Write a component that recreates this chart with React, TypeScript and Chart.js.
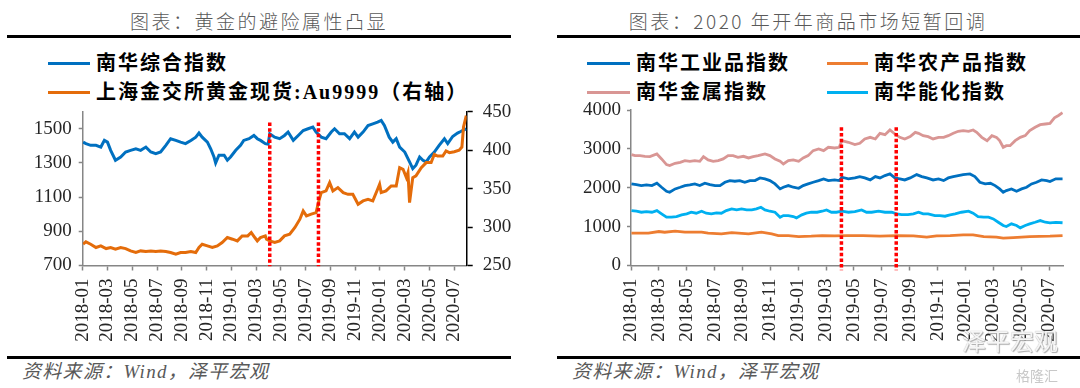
import React, { useEffect, useRef } from "react";
import { Chart, registerables } from "chart.js";

Chart.register(...registerables);

type Pt = [string, number];

// ---------- data ----------
const tickLabels = [
  "2018-01", "2018-03", "2018-05", "2018-07", "2018-09", "2018-11",
  "2019-01", "2019-03", "2019-05", "2019-07", "2019-09", "2019-11",
  "2020-01", "2020-03", "2020-05", "2020-07",
];
const axisStart = "2018-01-01";
const axisEnd = "2020-08-01";
const markerDates = ["2019-04-04", "2019-08-02"];

const compositeTicks = [700, 900, 1100, 1300, 1500];
const goldTicks = [250, 300, 350, 400, 450];
const commodityTicks = [0, 1000, 2000, 3000, 4000];

// 南华综合指数 (left axis)
const composite: Pt[] = [
  ["2018-01-02", 1422], ["2018-01-09", 1413], ["2018-01-21", 1403], ["2018-02-03", 1403],
  ["2018-02-14", 1393], ["2018-02-22", 1432], ["2018-03-01", 1422], ["2018-03-09", 1374],
  ["2018-03-21", 1316], ["2018-04-03", 1335], ["2018-04-15", 1364], ["2018-04-27", 1374],
  ["2018-05-10", 1383], ["2018-05-22", 1374], ["2018-06-04", 1393], ["2018-06-16", 1364],
  ["2018-06-28", 1354], ["2018-07-10", 1364], ["2018-07-23", 1403], ["2018-08-04", 1442],
  ["2018-08-17", 1432], ["2018-08-29", 1422], ["2018-09-10", 1413], ["2018-09-23", 1432],
  ["2018-10-05", 1451], ["2018-10-13", 1475], ["2018-10-21", 1451], ["2018-11-03", 1422],
  ["2018-11-11", 1383], ["2018-11-19", 1335], ["2018-11-23", 1300], ["2018-12-01", 1345],
  ["2018-12-14", 1345], ["2018-12-22", 1316], ["2018-12-30", 1335], ["2019-01-12", 1374],
  ["2019-01-24", 1403], ["2019-02-01", 1432], ["2019-02-13", 1442], ["2019-02-24", 1461],
  ["2019-03-04", 1442], ["2019-03-12", 1432], ["2019-03-24", 1413], ["2019-03-31", 1410],
  ["2019-04-04", 1471], ["2019-04-16", 1451], ["2019-04-28", 1442], ["2019-05-10", 1461],
  ["2019-05-19", 1481], ["2019-06-01", 1432], ["2019-06-13", 1461], ["2019-06-25", 1490],
  ["2019-07-07", 1500], ["2019-07-19", 1510], ["2019-07-27", 1481], ["2019-08-09", 1451],
  ["2019-08-21", 1442], ["2019-09-03", 1481], ["2019-09-11", 1500], ["2019-09-23", 1471],
  ["2019-10-05", 1471], ["2019-10-18", 1442], ["2019-10-30", 1481], ["2019-11-08", 1451],
  ["2019-11-20", 1481], ["2019-12-02", 1519], ["2019-12-14", 1529], ["2019-12-26", 1539],
  ["2020-01-04", 1549], ["2020-01-12", 1519], ["2020-01-24", 1451], ["2020-02-02", 1422],
  ["2020-02-10", 1442], ["2020-02-18", 1393], ["2020-03-01", 1364], ["2020-03-13", 1306],
  ["2020-03-21", 1267], ["2020-03-29", 1287], ["2020-04-07", 1335], ["2020-04-15", 1316],
  ["2020-04-23", 1306], ["2020-05-01", 1335], ["2020-05-13", 1364], ["2020-05-25", 1403],
  ["2020-06-07", 1442], ["2020-06-15", 1413], ["2020-06-27", 1455], ["2020-07-09", 1475],
  ["2020-07-17", 1484], ["2020-07-25", 1494], ["2020-07-31", 1500],
];

// 上海金交所黄金现货:Au9999 (right axis)
const gold: Pt[] = [
  ["2018-01-02", 277.7], ["2018-01-09", 280.7], ["2018-01-21", 277.7], ["2018-02-03", 273.4],
  ["2018-02-14", 275.5], ["2018-02-26", 272], ["2018-03-09", 273.4], ["2018-03-21", 271.2],
  ["2018-04-03", 273.4], ["2018-04-15", 272], ["2018-04-27", 269], ["2018-05-10", 266.9],
  ["2018-05-22", 269], ["2018-06-04", 268.2], ["2018-06-16", 269], ["2018-06-28", 268.2],
  ["2018-07-10", 269], ["2018-07-23", 268.2], ["2018-08-04", 266.9], ["2018-08-17", 264.7],
  ["2018-08-29", 266.9], ["2018-09-10", 266.9], ["2018-09-23", 268.2], ["2018-10-05", 266.9],
  ["2018-10-13", 273.4], ["2018-10-21", 277.7], ["2018-11-03", 275.5], ["2018-11-15", 273.4],
  ["2018-11-27", 275.5], ["2018-12-09", 279.9], ["2018-12-22", 286.4], ["2019-01-04", 284.2],
  ["2019-01-16", 282], ["2019-01-28", 288.5], ["2019-02-10", 288.5], ["2019-02-18", 292.9],
  ["2019-02-26", 286.4], ["2019-03-04", 282], ["2019-03-12", 286.4], ["2019-03-24", 288.5],
  ["2019-03-27", 284.2], ["2019-04-04", 282], ["2019-04-16", 279.9], ["2019-04-28", 282],
  ["2019-05-10", 288.5], ["2019-05-23", 290.7], ["2019-06-05", 299.4], ["2019-06-17", 310.2],
  ["2019-06-25", 321], ["2019-07-03", 314.5], ["2019-07-15", 316.7], ["2019-07-27", 318.8],
  ["2019-08-03", 334], ["2019-08-09", 344.8], ["2019-08-21", 347], ["2019-08-30", 357.8],
  ["2019-09-07", 347], ["2019-09-19", 351.3], ["2019-10-02", 344.8], ["2019-10-14", 342.6],
  ["2019-10-26", 342.6], ["2019-11-08", 329.7], ["2019-11-20", 334], ["2019-12-02", 336.1],
  ["2019-12-14", 334], ["2019-12-26", 349.1], ["2019-12-31", 355.6], ["2020-01-04", 344.8],
  ["2020-01-16", 347], ["2020-01-29", 353.5], ["2020-02-10", 353.5], ["2020-02-18", 377.3],
  ["2020-02-26", 375.1], ["2020-03-05", 364.3], ["2020-03-09", 370.8], ["2020-03-13", 331.8],
  ["2020-03-21", 364.3], ["2020-03-29", 366.5], ["2020-04-11", 377.3], ["2020-04-23", 383.8],
  ["2020-05-05", 383.8], ["2020-05-13", 394.6], ["2020-05-21", 392.4], ["2020-06-03", 392.4],
  ["2020-06-11", 398.9], ["2020-06-19", 396.8], ["2020-07-01", 398], ["2020-07-13", 400],
  ["2020-07-20", 404], ["2020-07-24", 430], ["2020-07-31", 445],
];

// 南华工业品指数
const industrial: Pt[] = [
  ["2018-01-02", 2098], ["2018-01-13", 2081], ["2018-01-24", 2056], ["2018-02-04", 2073],
  ["2018-02-15", 2056], ["2018-02-25", 2116], ["2018-03-07", 2013], ["2018-03-18", 1910],
  ["2018-03-25", 1884], ["2018-04-06", 1970], ["2018-04-17", 2013], ["2018-04-27", 2056],
  ["2018-05-08", 2073], ["2018-05-19", 2098], ["2018-05-30", 2056], ["2018-06-10", 2116],
  ["2018-06-21", 2081], ["2018-07-02", 2056], ["2018-07-13", 2056], ["2018-07-24", 2141],
  ["2018-08-04", 2184], ["2018-08-15", 2167], ["2018-08-26", 2184], ["2018-09-06", 2141],
  ["2018-09-17", 2184], ["2018-09-28", 2184], ["2018-10-09", 2253], ["2018-10-20", 2227],
  ["2018-10-31", 2184], ["2018-11-11", 2098], ["2018-11-22", 1970], ["2018-11-29", 2013],
  ["2018-12-10", 2056], ["2018-12-21", 2013], ["2019-01-02", 1987], ["2019-01-12", 2056],
  ["2019-01-23", 2098], ["2019-02-03", 2141], ["2019-02-14", 2184], ["2019-02-24", 2227],
  ["2019-03-06", 2184], ["2019-03-20", 2201], ["2019-03-30", 2184], ["2019-04-05", 2270],
  ["2019-04-19", 2227], ["2019-05-03", 2253], ["2019-05-14", 2287], ["2019-05-25", 2253],
  ["2019-06-06", 2201], ["2019-06-17", 2287], ["2019-06-27", 2253], ["2019-07-08", 2313],
  ["2019-07-19", 2356], ["2019-07-30", 2253], ["2019-08-10", 2227], ["2019-08-21", 2201],
  ["2019-09-02", 2253], ["2019-09-16", 2338], ["2019-09-27", 2287], ["2019-10-08", 2253],
  ["2019-10-22", 2201], ["2019-11-03", 2227], ["2019-11-14", 2184], ["2019-11-24", 2253],
  ["2019-12-05", 2287], ["2019-12-16", 2313], ["2019-12-27", 2338], ["2020-01-11", 2356],
  ["2020-01-22", 2287], ["2020-02-02", 2141], ["2020-02-13", 2098], ["2020-02-24", 2116],
  ["2020-03-05", 2056], ["2020-03-15", 1970], ["2020-03-23", 1884], ["2020-03-30", 1927],
  ["2020-04-10", 1970], ["2020-04-21", 1910], ["2020-05-02", 1970], ["2020-05-13", 2013],
  ["2020-05-24", 2098], ["2020-06-04", 2141], ["2020-06-15", 2201], ["2020-06-26", 2184],
  ["2020-07-03", 2158], ["2020-07-16", 2230], ["2020-07-31", 2230],
];

// 南华农产品指数
const agriculture: Pt[] = [
  ["2018-01-02", 831], ["2018-02-08", 831], ["2018-03-01", 874], ["2018-03-14", 856],
  ["2018-04-06", 882], ["2018-04-27", 856], ["2018-06-03", 856], ["2018-06-17", 831],
  ["2018-07-16", 814], ["2018-08-08", 848], ["2018-09-14", 814], ["2018-10-12", 856],
  ["2018-11-04", 814], ["2018-11-18", 771], ["2018-12-10", 771], ["2019-01-02", 745],
  ["2019-01-30", 754], ["2019-02-21", 771], ["2019-03-20", 762], ["2019-04-16", 771],
  ["2019-05-21", 771], ["2019-06-27", 754], ["2019-08-03", 771], ["2019-09-09", 762],
  ["2019-10-08", 728], ["2019-10-30", 762], ["2019-11-28", 771], ["2019-12-27", 788],
  ["2020-01-18", 788], ["2020-02-10", 745], ["2020-03-08", 728], ["2020-03-23", 702],
  ["2020-04-14", 719], ["2020-05-20", 745], ["2020-07-03", 754], ["2020-07-31", 770],
];

// 南华金属指数
const metals: Pt[] = [
  ["2018-01-02", 2852], ["2018-01-10", 2826], ["2018-01-21", 2826], ["2018-02-01", 2809],
  ["2018-02-11", 2800], ["2018-02-25", 2869], ["2018-03-07", 2741], ["2018-03-18", 2595],
  ["2018-03-25", 2570], ["2018-04-06", 2629], ["2018-04-17", 2655], ["2018-04-27", 2698],
  ["2018-05-08", 2681], ["2018-05-19", 2698], ["2018-05-30", 2681], ["2018-06-07", 2800],
  ["2018-06-17", 2715], ["2018-06-28", 2681], ["2018-07-09", 2698], ["2018-07-20", 2741],
  ["2018-07-31", 2826], ["2018-08-11", 2826], ["2018-08-22", 2784], ["2018-09-03", 2809],
  ["2018-09-14", 2767], ["2018-09-24", 2800], ["2018-10-05", 2826], ["2018-10-20", 2869],
  ["2018-10-31", 2826], ["2018-11-11", 2741], ["2018-11-22", 2681], ["2018-11-29", 2612],
  ["2018-12-10", 2698], ["2018-12-21", 2715], ["2019-01-02", 2681], ["2019-01-12", 2767],
  ["2019-01-23", 2826], ["2019-02-03", 2955], ["2019-02-14", 2998], ["2019-02-24", 2955],
  ["2019-03-06", 3041], ["2019-03-20", 3023], ["2019-03-30", 3041], ["2019-04-05", 3212],
  ["2019-04-19", 3169], ["2019-05-03", 3109], ["2019-05-14", 3143], ["2019-05-25", 3255],
  ["2019-06-06", 3297], ["2019-06-17", 3255], ["2019-06-27", 3400], ["2019-07-08", 3366],
  ["2019-07-19", 3486], ["2019-07-30", 3383], ["2019-08-10", 3297], ["2019-08-21", 3255],
  ["2019-09-02", 3315], ["2019-09-13", 3426], ["2019-09-20", 3400], ["2019-09-30", 3340],
  ["2019-10-11", 3315], ["2019-10-22", 3255], ["2019-11-03", 3297], ["2019-11-14", 3297],
  ["2019-11-24", 3340], ["2019-12-05", 3400], ["2019-12-16", 3452], ["2019-12-27", 3469],
  ["2020-01-08", 3452], ["2020-01-18", 3486], ["2020-01-26", 3426], ["2020-02-06", 3297],
  ["2020-02-17", 3212], ["2020-02-27", 3340], ["2020-03-08", 3297], ["2020-03-15", 3212],
  ["2020-03-23", 3041], ["2020-03-30", 3083], ["2020-04-07", 3083], ["2020-04-18", 3212],
  ["2020-04-29", 3297], ["2020-05-10", 3340], ["2020-05-20", 3469], ["2020-06-01", 3554],
  ["2020-06-12", 3623], ["2020-06-23", 3640], ["2020-07-03", 3657], ["2020-07-13", 3800],
  ["2020-07-22", 3860], ["2020-07-31", 3930],
];

// 南华能化指数
const energyChem: Pt[] = [
  ["2018-01-02", 1413], ["2018-01-13", 1396], ["2018-01-24", 1370], ["2018-02-04", 1387],
  ["2018-02-15", 1370], ["2018-02-25", 1413], ["2018-03-07", 1328], ["2018-03-18", 1242],
  ["2018-03-29", 1242], ["2018-04-09", 1259], ["2018-04-20", 1302], ["2018-05-01", 1328],
  ["2018-05-11", 1370], ["2018-05-22", 1345], ["2018-06-03", 1396], ["2018-06-13", 1345],
  ["2018-06-24", 1328], ["2018-07-05", 1353], ["2018-07-16", 1345], ["2018-07-27", 1413],
  ["2018-08-08", 1456], ["2018-08-19", 1430], ["2018-08-30", 1456], ["2018-09-10", 1430],
  ["2018-09-21", 1430], ["2018-10-01", 1456], ["2018-10-11", 1499], ["2018-10-20", 1430],
  ["2018-10-31", 1396], ["2018-11-11", 1370], ["2018-11-22", 1242], ["2018-11-29", 1285],
  ["2018-12-10", 1285], ["2018-12-21", 1259], ["2018-12-28", 1225], ["2019-01-09", 1302],
  ["2019-01-19", 1345], ["2019-01-30", 1370], ["2019-02-11", 1370], ["2019-02-21", 1396],
  ["2019-03-02", 1430], ["2019-03-13", 1370], ["2019-03-24", 1370], ["2019-04-05", 1396],
  ["2019-04-19", 1370], ["2019-05-03", 1387], ["2019-05-18", 1430], ["2019-05-29", 1370],
  ["2019-06-09", 1370], ["2019-06-24", 1396], ["2019-07-08", 1370], ["2019-07-23", 1370],
  ["2019-08-03", 1328], ["2019-08-14", 1310], ["2019-08-28", 1310], ["2019-09-09", 1328],
  ["2019-09-20", 1370], ["2019-09-30", 1328], ["2019-10-11", 1328], ["2019-10-26", 1285],
  ["2019-11-06", 1285], ["2019-11-17", 1268], ["2019-11-28", 1302], ["2019-12-09", 1328],
  ["2019-12-23", 1370], ["2020-01-08", 1396], ["2020-01-18", 1345], ["2020-01-29", 1259],
  ["2020-02-10", 1242], ["2020-02-20", 1242], ["2020-03-01", 1199], ["2020-03-12", 1113],
  ["2020-03-23", 1028], ["2020-03-30", 1002], ["2020-04-10", 1071], ["2020-04-21", 1028],
  ["2020-04-29", 968], ["2020-05-10", 1028], ["2020-05-20", 1071], ["2020-06-01", 1113],
  ["2020-06-12", 1156], ["2020-06-23", 1113], ["2020-07-03", 1096], ["2020-07-16", 1110],
  ["2020-07-31", 1100],
];

// vertical marker extents (value units of each chart's left axis)
const leftMarkerRange = [695, 1537];
const rightMarkerRange = [-120, 3555];

// ---------- helpers ----------
function monthOf(date: string): number {
  const [y, m, d] = date.split("-").map(Number);
  const dim = new Date(y, m, 0).getDate();
  return (y - 2018) * 12 + (m - 1) + (d - 1) / dim;
}
const toXY = (pts: Pt[]) => pts.map(([d, v]) => ({ x: monthOf(d), y: v }));

const serif = '"Liberation Serif", "Times New Roman", serif';
const cjk = '"Noto Sans CJK SC", "Noto Sans", sans-serif';
const mixed = `"Liberation Serif", ${cjk}`;
const tickFont = { family: serif, size: 19 };
const tickColor = "#262626";
const axisGray = "#868686";

function xScale() {
  return {
    type: "linear" as const,
    min: monthOf(axisStart),
    max: monthOf(axisEnd),
    afterBuildTicks: (s: any) => {
      s.ticks = tickLabels.map((t) => ({ value: monthOf(t + "-01") }));
    },
    afterFit: (s: any) => {
      s.height = 84.5;
      s.paddingLeft = 0;
      s.paddingRight = 0;
    },
    ticks: {
      autoSkip: false,
      minRotation: 90,
      maxRotation: 90,
      padding: 8,
      color: tickColor,
      font: tickFont,
      callback: (_v: any, i: number) => tickLabels[i],
    },
    grid: {
      display: true,
      drawOnChartArea: false,
      drawTicks: true,
      tickLength: 5,
      tickColor: axisGray,
      tickWidth: 1.5,
    },
    border: { display: true, color: axisGray, width: 1.5 },
  };
}

function yScale(
  position: "left" | "right",
  min: number,
  max: number,
  ticks: number[],
  width: number,
  color: string,
  tickLength: number,
  padding: number
) {
  return {
    type: "linear" as const,
    position,
    min,
    max,
    afterBuildTicks: (s: any) => {
      s.ticks = ticks.map((v) => ({ value: v }));
    },
    afterFit: (s: any) => {
      s.width = width;
      s.paddingTop = 0;
      s.paddingBottom = 0;
    },
    ticks: {
      padding,
      color: tickColor,
      font: tickFont,
      callback: (v: any) => String(v),
    },
    grid: {
      display: true,
      drawOnChartArea: false,
      drawTicks: true,
      tickLength,
      tickColor: color,
      tickWidth: 1.5,
    },
    border: { display: true, color, width: 1.5 },
  };
}

function markerDataset(date: string, range: number[]) {
  return {
    data: [
      { x: monthOf(date), y: range[1] },
      { x: monthOf(date), y: range[0] },
    ],
    borderColor: "#FF0000",
    borderWidth: 3.5,
    borderDash: [3.5, 2.2],
    borderCapStyle: "butt",
    pointRadius: 0,
    clip: false as any,
    yAxisID: "y",
  };
}

function lineDataset(pts: Pt[], color: string, yAxisID = "y", width = 3) {
  return {
    data: toXY(pts),
    borderColor: color,
    backgroundColor: color,
    borderWidth: width,
    pointRadius: 0,
    tension: 0,
    yAxisID,
  };
}

const baseOptions = {
  responsive: false,
  animation: false as const,
  devicePixelRatio: 1,
  plugins: { legend: { display: false }, tooltip: { enabled: false } },
  events: [] as any[],
};

function LeftChart() {
  const ref = useRef<HTMLCanvasElement>(null);
  useEffect(() => {
    if (!ref.current) return;
    const chart = new Chart(ref.current, {
      type: "line",
      data: {
        datasets: [
          ...markerDates.map((d) => markerDataset(d, leftMarkerRange)),
          lineDataset(gold, "#E46C0A", "y1"),
          lineDataset(composite, "#0070C0", "y"),
        ] as any,
      },
      options: {
        ...baseOptions,
        layout: { padding: { top: 11.7, left: 0, right: 0, bottom: 0 } },
        scales: {
          x: xScale(),
          y: yScale("left", 700, 1600, compositeTicks, 82.7, axisGray, 4, 7),
          y1: yScale("right", 250, 450, goldTicks, 73.3, "#000000", 6, 10),
        } as any,
      } as any,
    });
    return () => chart.destroy();
  }, []);
  return (
    <canvas
      ref={ref}
      width={540}
      height={250}
      style={{ position: "absolute", left: 0, top: 100, width: 540, height: 250 }}
    />
  );
}

function RightChart() {
  const ref = useRef<HTMLCanvasElement>(null);
  useEffect(() => {
    if (!ref.current) return;
    const chart = new Chart(ref.current, {
      type: "line",
      data: {
        datasets: [
          ...markerDates.map((d) => markerDataset(d, rightMarkerRange)),
          lineDataset(agriculture, "#ED7D31", "y", 2.8),
          lineDataset(energyChem, "#00B0F0", "y", 2.8),
          lineDataset(industrial, "#0070C0", "y", 2.8),
          lineDataset(metals, "#D99694", "y", 2.8),
        ] as any,
      },
      options: {
        ...baseOptions,
        layout: { padding: { top: 10, left: 0, right: 17, bottom: 0 } },
        scales: {
          x: xScale(),
          y: yScale("left", 0, 4000, commodityTicks, 91, axisGray, 4, 6),
        } as any,
      } as any,
    });
    return () => chart.destroy();
  }, []);
  return (
    <canvas
      ref={ref}
      width={540}
      height={250}
      style={{ position: "absolute", left: 540, top: 100, width: 540, height: 250 }}
    />
  );
}

const abs = (s: React.CSSProperties): React.CSSProperties => ({ position: "absolute", ...s });

function Title({ text, left, width }: { text: string; left: number; width: number }) {
  return (
    <div
      style={abs({
        left,
        top: 10,
        width,
        textAlign: "center",
        fontFamily: cjk,
        fontWeight: 300,
        fontSize: 19,
        lineHeight: "22px",
        letterSpacing: 2.5,
        color: "#595959",
        whiteSpace: "nowrap",
      })}
    >
      {text}
    </div>
  );
}

function Rule({ left, width, top }: { left: number; width: number; top: number }) {
  return <div style={abs({ left, width, top, height: 3, background: "#000" })} />;
}

function LegendItem({
  x,
  y,
  color,
  label,
  lineLen = 42,
}: {
  x: number;
  y: number;
  color: string;
  label: string;
  lineLen?: number;
}) {
  return (
    <>
      <div style={abs({ left: x, top: y - 1.5, width: lineLen, height: 3, background: color })} />
      <div
        style={abs({
          left: x + lineLen + 6,
          top: y - 12,
          fontFamily: mixed,
          fontWeight: 700,
          fontSize: 20,
          lineHeight: "24px",
          letterSpacing: 2,
          color: "#000",
          whiteSpace: "nowrap",
        })}
      >
        {label}
      </div>
    </>
  );
}

function Footer({ left }: { left: number }) {
  return (
    <div
      style={abs({
        left,
        top: 361,
        fontFamily: mixed,
        fontStyle: "italic",
        fontSize: 19,
        lineHeight: "22px",
        letterSpacing: 1.3,
        color: "#595959",
        whiteSpace: "nowrap",
      })}
    >
      资料来源：Wind，泽平宏观
    </div>
  );
}

export default function App() {
  return (
    <div
      style={{
        position: "fixed",
        left: 0,
        top: 0,
        width: 1080,
        height: 388,
        background: "#ffffff",
        overflow: "hidden",
      }}
    >
      {/* left panel */}
      <Title text="图表：黄金的避险属性凸显" left={0} width={518} />
      <Rule left={7} width={504} top={35} />
      <LegendItem x={48} y={63} color="#0070C0" label="南华综合指数" />
      <LegendItem x={48} y={92} color="#E46C0A" label="上海金交所黄金现货:Au9999（右轴）" />
      <LeftChart />
      <Rule left={7} width={504} top={356} />
      <Footer left={22} />

      {/* right panel */}
      <Title text="图表：2020 年开年商品市场短暂回调" left={556} width={504} />
      <Rule left={557} width={523} top={35} />
      <LegendItem x={587} y={63} color="#0070C0" label="南华工业品指数" lineLen={43} />
      <LegendItem x={827} y={63} color="#ED7D31" label="南华农产品指数" lineLen={41} />
      <LegendItem x={587} y={92} color="#D99694" label="南华金属指数" lineLen={43} />
      <LegendItem x={827} y={92} color="#00B0F0" label="南华能化指数" lineLen={41} />
      <RightChart />
      <Rule left={557} width={523} top={356} />
      <Footer left={572} />

      {/* watermarks */}
      <div
        style={abs({
          left: 962,
          top: 326,
          fontFamily: cjk,
          fontSize: 24,
          lineHeight: "28px",
          color: "rgba(255,255,255,0.9)",
          textShadow: "0 0 1px #999, 1px 1px 1px #aaa",
          whiteSpace: "nowrap",
        })}
      >
        泽平宏观
      </div>
      <div
        style={abs({
          left: 1016,
          top: 366,
          fontFamily: cjk,
          fontSize: 14,
          lineHeight: "18px",
          color: "#c8c8c8",
          whiteSpace: "nowrap",
        })}
      >
        格隆汇
      </div>
    </div>
  );
}
